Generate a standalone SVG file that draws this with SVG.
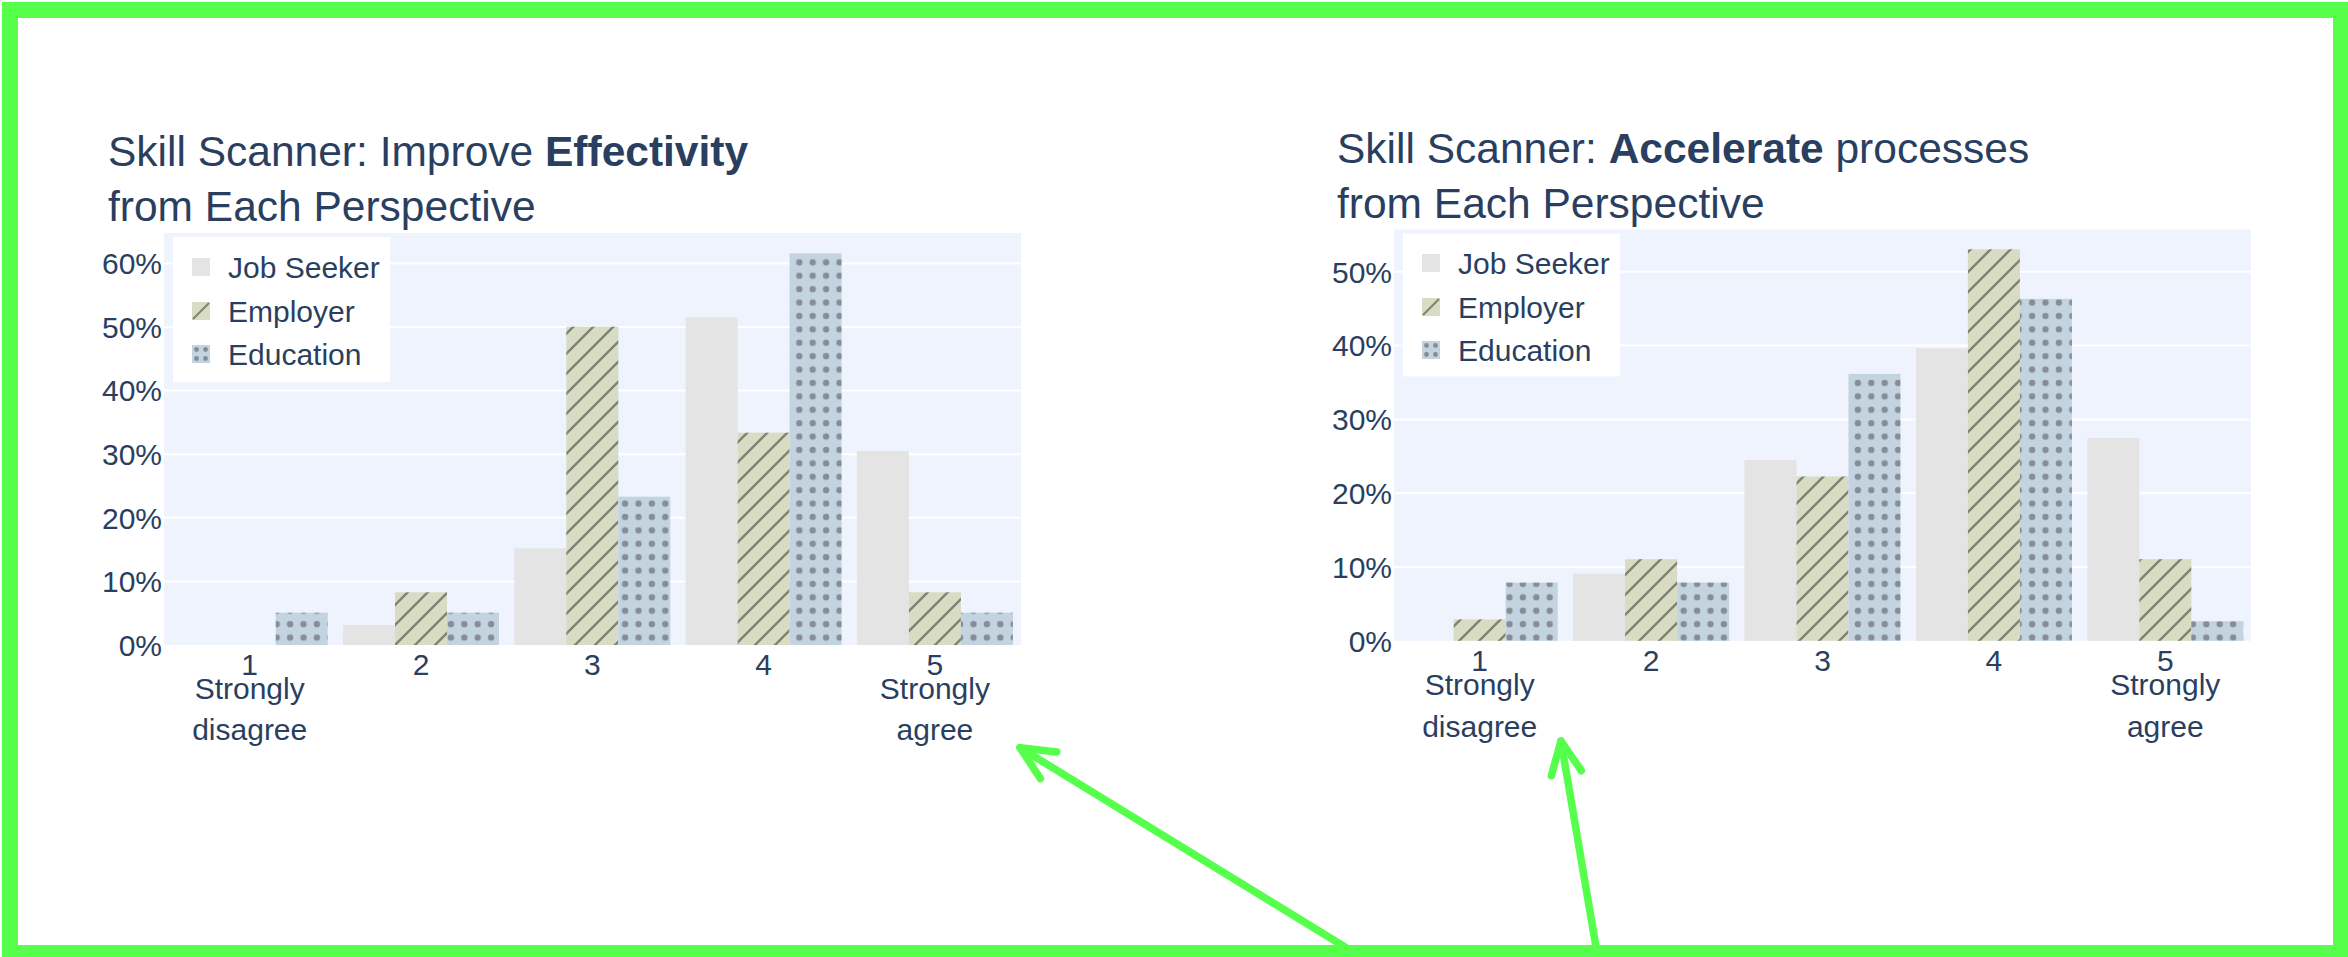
<svg xmlns="http://www.w3.org/2000/svg" width="2348" height="957" viewBox="0 0 2348 957">
<style>
text{font-family:"Liberation Sans",Arial,sans-serif;fill:#2a3f5f}
.title{font-size:42.5px}
.ytick{font-size:30px;text-anchor:end}
.xtick{font-size:30px;text-anchor:middle}
.leg{font-size:30px}
.bg{fill:#eef3fd}
.grid{stroke:#ffffff;stroke-width:2}
.js{fill:#e4e4e4}
.emp{fill:url(#hatch)}
.edu{fill:url(#dots)}
.frame{fill:none;stroke:#55ff4c;stroke-width:16}
.arrow{fill:none;stroke:#55ff4c;stroke-width:7.5;stroke-linecap:round;stroke-linejoin:round}
</style>
<defs>
<pattern id="hatch" patternUnits="userSpaceOnUse" width="20" height="20">
<rect width="20" height="20" fill="#d8dcc3"/>
<path d="M-5,5 L5,-5 M0,20 L20,0 M15,25 L25,15" stroke="#7f8275" stroke-width="2.4"/>
</pattern>
<pattern id="dots" patternUnits="userSpaceOnUse" width="13.4" height="13.4" x="2" y="1">
<rect width="13.4" height="13.4" fill="#c3d3e0"/>
<circle cx="6.7" cy="6.7" r="3.2" fill="#868d94"/>
</pattern>
</defs>
<rect width="2348" height="957" fill="#ffffff"/>
<rect class="frame" x="10" y="10" width="2331" height="943"/>

<g id="chart-effectivity">
<text class="title" x="108" y="166">Skill Scanner: Improve <tspan font-weight="bold">Effectivity</tspan></text>
<text class="title" x="108" y="221">from Each Perspective</text>
<rect class="bg" x="164" y="233" width="857" height="412"/>
<g class="grid">
<line x1="164" y1="581.4" x2="1021" y2="581.4"/>
<line x1="164" y1="517.8" x2="1021" y2="517.8"/>
<line x1="164" y1="454.2" x2="1021" y2="454.2"/>
<line x1="164" y1="390.6" x2="1021" y2="390.6"/>
<line x1="164" y1="327" x2="1021" y2="327"/>
<line x1="164" y1="263.4" x2="1021" y2="263.4"/>
</g>
<g>
<text class="ytick" x="162" y="656">0%</text>
<text class="ytick" x="162" y="592">10%</text>
<text class="ytick" x="162" y="528.5">20%</text>
<text class="ytick" x="162" y="465">30%</text>
<text class="ytick" x="162" y="401.3">40%</text>
<text class="ytick" x="162" y="337.7">50%</text>
<text class="ytick" x="162" y="274">60%</text>
</g>
<g>
<rect class="edu" x="275.7" y="612.7" width="52" height="32.3"/>
<rect class="js" x="343" y="625" width="52" height="20"/>
<rect class="emp" x="395" y="592.3" width="52" height="52.7"/>
<rect class="edu" x="447" y="612.7" width="52" height="32.3"/>
<rect class="js" x="514.3" y="548.3" width="52" height="96.7"/>
<rect class="emp" x="566.3" y="326.7" width="52" height="318.3"/>
<rect class="edu" x="618.3" y="496.7" width="52" height="148.3"/>
<rect class="js" x="685.6" y="317.3" width="52" height="327.7"/>
<rect class="emp" x="737.6" y="432.7" width="52" height="212.3"/>
<rect class="edu" x="789.6" y="253.3" width="52" height="391.7"/>
<rect class="js" x="856.9" y="451" width="52" height="194"/>
<rect class="emp" x="908.9" y="592.3" width="52" height="52.7"/>
<rect class="edu" x="960.9" y="612.7" width="52" height="32.3"/>
</g>
<g>
<text class="xtick" x="249.7" y="675">1</text>
<text class="xtick" x="249.7" y="699">Strongly</text>
<text class="xtick" x="249.7" y="740">disagree</text>
<text class="xtick" x="421" y="675">2</text>
<text class="xtick" x="592.3" y="675">3</text>
<text class="xtick" x="763.6" y="675">4</text>
<text class="xtick" x="934.9" y="675">5</text>
<text class="xtick" x="934.9" y="699">Strongly</text>
<text class="xtick" x="934.9" y="740">agree</text>
</g>
<g id="legend-effectivity">
<rect x="173" y="237" width="217" height="145" fill="#ffffff"/>
<rect class="js" x="192" y="258" width="18" height="18"/>
<text class="leg" x="228" y="278">Job Seeker</text>
<rect x="192" y="302" width="18" height="18" fill="#d8dcc3"/>
<path d="M193,319 L209,303" stroke="#7f8275" stroke-width="2"/>
<text class="leg" x="228" y="322">Employer</text>
<rect x="192" y="345" width="18" height="18" fill="#c3d3e0"/>
<g fill="#868d94"><circle cx="196.5" cy="349.5" r="2.4"/><circle cx="205.5" cy="349.5" r="2.4"/><circle cx="196.5" cy="358.5" r="2.4"/><circle cx="205.5" cy="358.5" r="2.4"/></g>
<text class="leg" x="228" y="365">Education</text>
</g>
</g>

<g id="chart-accelerate">
<text class="title" x="1337" y="163">Skill Scanner: <tspan font-weight="bold">Accelerate</tspan> processes</text>
<text class="title" x="1337" y="218">from Each Perspective</text>
<rect class="bg" x="1394" y="229.5" width="857" height="411.3"/>
<g class="grid">
<line x1="1394" y1="567" x2="2251" y2="567"/>
<line x1="1394" y1="493.2" x2="2251" y2="493.2"/>
<line x1="1394" y1="419.4" x2="2251" y2="419.4"/>
<line x1="1394" y1="345.6" x2="2251" y2="345.6"/>
<line x1="1394" y1="271.8" x2="2251" y2="271.8"/>
</g>
<g>
<text class="ytick" x="1392" y="651.5">0%</text>
<text class="ytick" x="1392" y="577.7">10%</text>
<text class="ytick" x="1392" y="503.9">20%</text>
<text class="ytick" x="1392" y="430.1">30%</text>
<text class="ytick" x="1392" y="356.3">40%</text>
<text class="ytick" x="1392" y="282.5">50%</text>
</g>
<g>
<rect class="emp" x="1453.7" y="619.4" width="52" height="21.4"/>
<rect class="edu" x="1505.7" y="582.6" width="52" height="58.2"/>
<rect class="js" x="1573.1" y="573.6" width="52" height="67.2"/>
<rect class="emp" x="1625.1" y="559.2" width="52" height="81.6"/>
<rect class="edu" x="1677.1" y="582.6" width="52" height="58.2"/>
<rect class="js" x="1744.5" y="460" width="52" height="180.8"/>
<rect class="emp" x="1796.5" y="476.5" width="52" height="164.3"/>
<rect class="edu" x="1848.5" y="373.9" width="52" height="266.9"/>
<rect class="js" x="1915.9" y="348.4" width="52" height="292.4"/>
<rect class="emp" x="1967.9" y="249.3" width="52" height="391.5"/>
<rect class="edu" x="2019.9" y="298.9" width="52" height="341.9"/>
<rect class="js" x="2087.3" y="438" width="52" height="202.8"/>
<rect class="emp" x="2139.3" y="559.2" width="52" height="81.6"/>
<rect class="edu" x="2191.3" y="621.2" width="52" height="19.6"/>
</g>
<g>
<text class="xtick" x="1479.7" y="671">1</text>
<text class="xtick" x="1479.7" y="695">Strongly</text>
<text class="xtick" x="1479.7" y="737">disagree</text>
<text class="xtick" x="1651.1" y="671">2</text>
<text class="xtick" x="1822.5" y="671">3</text>
<text class="xtick" x="1993.9" y="671">4</text>
<text class="xtick" x="2165.3" y="671">5</text>
<text class="xtick" x="2165.3" y="695">Strongly</text>
<text class="xtick" x="2165.3" y="737">agree</text>
</g>
<g id="legend-accelerate">
<rect x="1403" y="233.5" width="217" height="143" fill="#ffffff"/>
<rect class="js" x="1422" y="254" width="18" height="18"/>
<text class="leg" x="1458" y="274">Job Seeker</text>
<rect x="1422" y="298" width="18" height="18" fill="#d8dcc3"/>
<path d="M1423,315 L1439,299" stroke="#7f8275" stroke-width="2"/>
<text class="leg" x="1458" y="318">Employer</text>
<rect x="1422" y="341" width="18" height="18" fill="#c3d3e0"/>
<g fill="#868d94"><circle cx="1426.5" cy="345.5" r="2.4"/><circle cx="1435.5" cy="345.5" r="2.4"/><circle cx="1426.5" cy="354.5" r="2.4"/><circle cx="1435.5" cy="354.5" r="2.4"/></g>
<text class="leg" x="1458" y="361">Education</text>
</g>
</g>

<g id="connectors">
<path class="arrow" d="M1345,947 L1020,747.7"/>
<path class="arrow" d="M1056.8,751.9 L1020,747.7 L1040.4,778.6"/>
<path class="arrow" d="M1596,947 L1561,741"/>
<path class="arrow" d="M1581.3,770.7 L1561,741 L1551.3,775.7"/>
</g>
</svg>
